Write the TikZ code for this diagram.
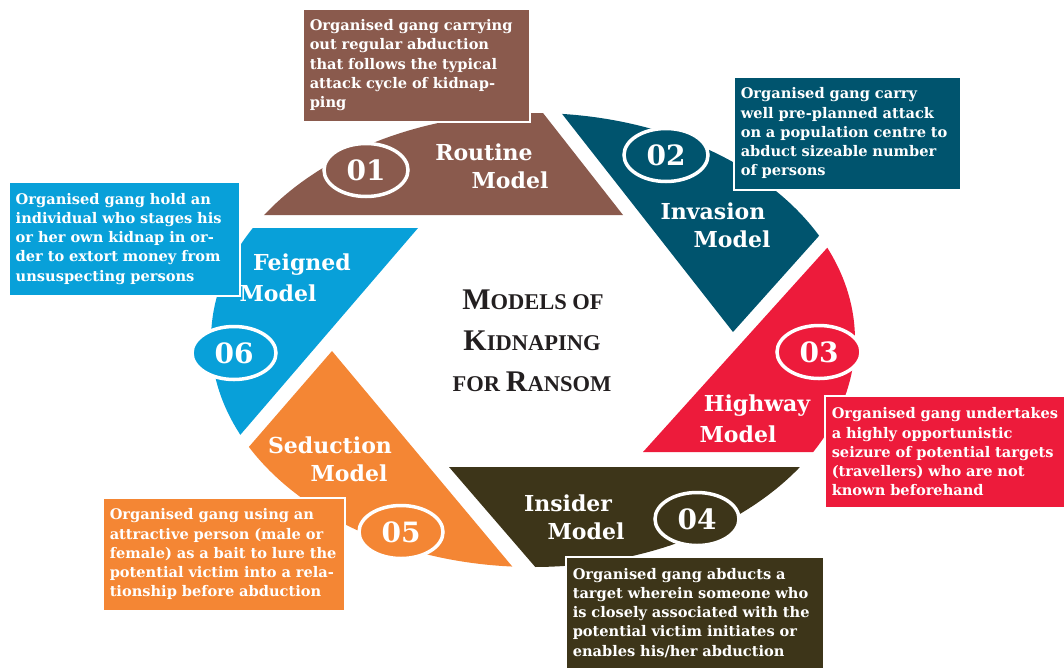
\documentclass[tikz,border=0pt]{standalone}
\usepackage{fontspec}
\newfontfamily\titlefont{Liberation Serif}
\newfontfamily\boxfont{DejaVu Serif}
\usetikzlibrary{shapes.geometric, positioning}
\definecolor{routinec}{HTML}{8A5A4D}
\definecolor{invasionc}{HTML}{00546E}
\definecolor{highwayc}{HTML}{ED1B3B}
\definecolor{insiderc}{HTML}{3D3519}
\definecolor{seductionc}{HTML}{F48634}
\definecolor{feignedc}{HTML}{08A0D9}
\definecolor{titlec}{HTML}{231F20}
\tikzset{
	numoval/.style={ellipse, draw=white, line width=3.5pt, minimum width=84pt, minimum height=53pt, inner sep=0pt, text=white, font=\boxfont\bfseries\fontsize{28}{28}\selectfont},
	modlbl/.style={text=white, inner sep=0pt, font=\boxfont\bfseries\fontsize{22}{22}\selectfont},
	infobox/.style={draw=white, line width=1.5pt, anchor=north west, text=white, align=left, inner sep=7pt, font=\boxfont\bfseries\fontsize{14.6}{19.2}\selectfont},
	titleln/.style={text=titlec, inner sep=0pt, font=\titlefont\bfseries},
}
\newcommand{\bigsc}[2]{{\fontsize{30}{30}\selectfont #1}{\fontsize{22.5}{30}\selectfont #2}}

\begin{document}
\begin{tikzpicture}[x=1pt, y=-1pt]
	\useasboundingbox (0,0) rectangle (1064,667);
	
	% ring segments, cut out of one ellipse
	\begin{scope}
		\clip (533,340) ellipse [x radius=322pt, y radius=227pt];
		\fill [routinec] (150,215) -- (623,215) -- (503,62) -- (150,62) -- cycle;
		\fill [invasionc] (733,332) -- (512,50) -- (903,50) -- (903,142) -- cycle;
		\fill [highwayc] (643,452) -- (864,207) -- (903,207) -- (903,452) -- cycle;
		\fill [insiderc] (449,467) -- (903,467) -- (903,620) -- (581,620) -- cycle;
		\fill [seductionc] (332,351) -- (557,620) -- (150,620) -- (150,561) -- cycle;
		\fill [feignedc] (418,228) -- (150,540) -- (150,228) -- cycle;
	\end{scope}
	
	% callouts
	\node [infobox, fill=routinec, text width=213pt, minimum height=113pt] (routineinfo) at (302,8) {Organised gang carrying\\ out regular abduction\\ that follows the typical\\ attack cycle of kidnap-\\ ping};
	\node [infobox, fill=invasionc, text width=213pt, minimum height=113pt] (invasioninfo) at (733,76) {Organised gang carry\\ well pre-planned attack\\ on a population centre to\\ abduct sizeable number\\ of persons};
	\node [infobox, fill=highwayc, text width=236pt, minimum height=112pt] (highwayinfo) at (824,395) {Organised gang undertakes\\ a highly opportunistic\\ seizure of potential targets\\ (travellers) who are not\\ known beforehand};
	\node [infobox, fill=insiderc, text width=244pt, minimum height=112pt] (insiderinfo) at (565,556) {Organised gang abducts a\\ target wherein someone who\\ is closely associated with the\\ potential victim initiates or\\ enables his/her abduction};
	\node [infobox, fill=seductionc, text width=228pt, minimum height=113pt] (seductioninfo) at (102,497) {Organised gang using an\\ attractive person (male or\\ female) as a bait to lure the\\ potential victim into a rela-\\ tionship before abduction};
	\node [infobox, fill=feignedc, text width=217pt, minimum height=114pt] (feignedinfo) at (8,181) {Organised gang hold an\\ individual who stages his\\ or her own kidnap in or-\\ der to extort money from\\ unsuspecting persons};
	
	% numbers
	\node [numoval, fill=routinec] (n1) at (366,170) {01};
	\node [numoval, fill=invasionc] (n2) at (666,155) {02};
	\node [numoval, fill=highwayc] (n3) at (819,352) {03};
	\node [numoval, fill=insiderc] (n4) at (697,519) {04};
	\node [numoval, fill=seductionc] (n5) at (401,532) {05};
	\node [numoval, fill=feignedc] (n6) at (234,353) {06};
	
	% model names
	\node [modlbl] (routineA) at (484,152) {Routine};
	\node [modlbl] (routineB) at (510,180) {Model};
	\node [modlbl] (invasionA) at (713,211) {Invasion};
	\node [modlbl] (invasionB) at (732,239) {Model};
	\node [modlbl] (highwayA) at (757,406) {Highway};
	\node [modlbl] (highwayB) at (738,434) {Model};
	\node [modlbl] (insiderA) at (568,503) {Insider};
	\node [modlbl] (insiderB) at (586,531) {Model};
	\node [modlbl] (seductionA) at (330,445) {Seduction};
	\node [modlbl] (seductionB) at (349,473) {Model};
	\node [modlbl] (feignedA) at (302,265) {Feigned};
	\node [modlbl] (feignedB) at (278,293) {Model};
	
	% title
	\node [titleln] (titleA) at (533,300) {\bigsc{M}{ODELS OF}};
	\node [titleln] (titleB) at (532,341) {\bigsc{K}{IDNAPING}};
	\node [titleln] (titleC) at (532,382) {\bigsc{}{FOR }\bigsc{R}{ANSOM}};
\end{tikzpicture}
\end{document}
